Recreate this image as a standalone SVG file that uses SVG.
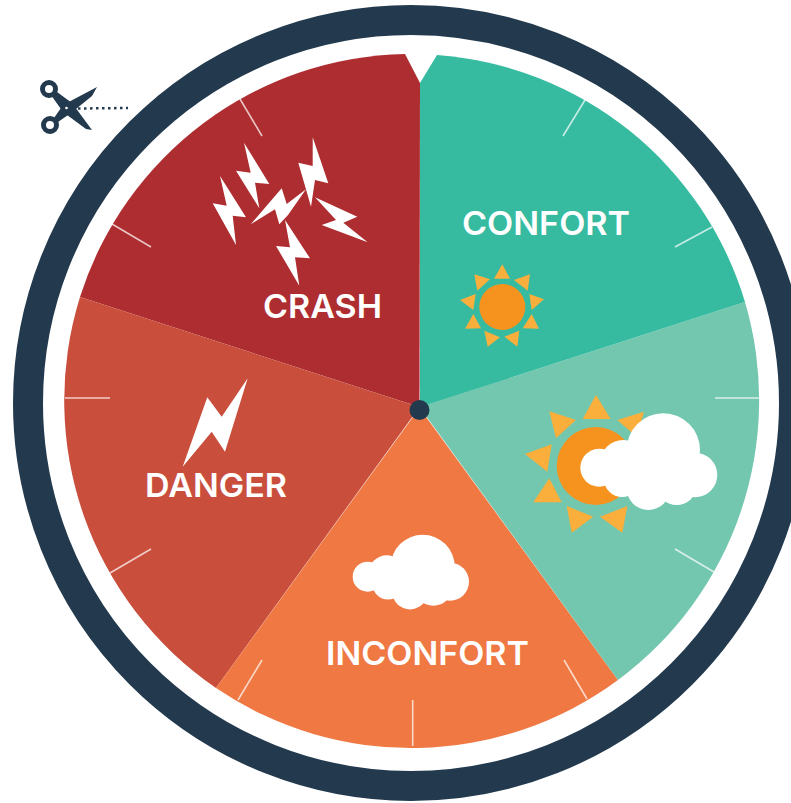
<svg xmlns="http://www.w3.org/2000/svg" width="791" height="803" viewBox="0 0 791 803">
<style>
.tick{stroke:#fff;stroke-opacity:.72;stroke-width:1.6;fill:none}
.lbl{font-family:"Inter","Noto Sans","Liberation Sans",sans-serif;font-weight:600;font-size:33px;fill:#fff}
.ray{fill:#faae3b}
.core{fill:#f6931f}
.w{fill:#fff}
.dk{fill:#233a4e}
</style>
<rect width="791" height="803" fill="#fff"/>
<circle id="ring" cx="411" cy="403" r="383" fill="none" stroke="#233a4e" stroke-width="30"/>
<g id="crash">
<path d="M419.5 407L420 83L405 54A348 348 0 0 0 80 297Z" fill="#ae2d30"/>
<g class="w">
<polygon points="220,176 246,217.3 232.7,215.7 236,245 212.7,203.3 226.7,205.7"/>
<polygon points="244,142.7 269.3,184 255,182.7 259.3,208.3 236,170.7 250.7,172.7"/>
<polygon points="306,189.3 288,215 279.3,224.3 275,209.3 250.7,224.3 281.7,188.3 286.7,204"/>
<polygon points="312.7,137.3 328.3,183.3 315,180 311,206.7 298.3,162.7 312.7,166"/>
<polygon points="315,197.3 357.3,216.7 343.3,222.7 367.7,242.3 321.7,225 336,220"/>
<polygon points="285,220 310,258.3 295,257.3 299.3,285.7 276,246 290,247.3"/>
</g>
<text class="lbl" x="263" y="318" textLength="119" lengthAdjust="spacingAndGlyphs">CRASH</text>
<line class="tick" x1="240" y1="99" x2="262" y2="136"/>
<line class="tick" x1="112" y1="224" x2="151" y2="247"/>
</g>
<g id="danger">
<path d="M419.5 407L80 297A348 348 0 0 0 216 688Z" fill="#c94e3c"/>
<polygon class="w" points="247.7,378.3 225,451.7 211.7,431.7 182.7,466.7 207.3,397.3 221.7,416.7"/>
<text class="lbl" x="145" y="497" textLength="142" lengthAdjust="spacingAndGlyphs">DANGER</text>
<line class="tick" x1="65" y1="398" x2="110" y2="398"/>
<line class="tick" x1="151" y1="549" x2="110" y2="573"/>
</g>
<g id="inconfort">
<path d="M419.5 408L216 688A348 348 0 0 0 618 680Z" fill="#ef7843"/>
<g class="w">
<circle cx="422.7" cy="566.7" r="32"/>
<circle cx="367.7" cy="576.7" r="15"/>
<circle cx="386.7" cy="573.3" r="18"/>
<circle cx="388" cy="584" r="15.500"/>
<circle cx="450" cy="581.7" r="19"/>
<circle cx="410" cy="591.7" r="17.700"/>
<circle cx="433.300" cy="586.7" r="19"/>
<circle cx="405" cy="580" r="20"/>
</g>
<text class="lbl" x="326" y="665" textLength="203" lengthAdjust="spacingAndGlyphs">INCONFORT</text>
<line class="tick" x1="262" y1="660" x2="238" y2="700"/>
<line class="tick" x1="412.7" y1="700" x2="412.7" y2="746"/>
<line class="tick" x1="564" y1="660" x2="587" y2="699"/>
</g>
<g id="partly-cloudy">
<path d="M419.5 407L745 302A348 348 0 0 1 618 680Z" fill="#73c7ae"/>
<g class="ray">
<polygon points="596,395 610.7,419 582.7,419"/>
<polygon points="644,411.7 617.3,420 636.7,436.7"/>
<polygon points="549.3,411.3 576,420 556,438.3"/>
<polygon points="525,454 551.7,444.3 547.3,471.7"/>
<polygon points="549.3,478.3 561.7,502.3 533.3,502.3"/>
<polygon points="566.7,506 593.3,516.7 571.7,532.7"/>
<polygon points="627.3,506 600,516.7 622.3,532.7"/>
</g>
<circle class="core" cx="595.7" cy="466" r="39"/>
<g class="w">
<circle cx="663.3" cy="450" r="36.700"/>
<circle cx="599.3" cy="467.7" r="19"/>
<circle cx="623.3" cy="463.3" r="23.300"/>
<circle cx="622" cy="479" r="18"/>
<circle cx="642" cy="470" r="25"/>
<circle cx="672" cy="470" r="25"/>
<circle cx="695" cy="475" r="22.300"/>
<circle cx="648.3" cy="488.3" r="21.700"/>
<circle cx="676.7" cy="485" r="20"/>
</g>
<line class="tick" x1="715" y1="398" x2="759" y2="398"/>
<line class="tick" x1="675" y1="549" x2="714" y2="572"/>
</g>
<g id="confort">
<path d="M420 407V83L437 55A348 348 0 0 1 745 302Z" fill="#36bba1"/>
<g class="ray">
<polygon points="502.3,264.3 510,278.7 494,278.7"/>
<polygon points="530,274.3 514,280 527.7,290.7"/>
<polygon points="544,299.3 531.7,310 529.3,294"/>
<polygon points="539,328.7 522.7,328.3 531.7,314"/>
<polygon points="519.3,330.7 504.3,336.7 517.3,346.7"/>
<polygon points="484.3,330.7 500,337.3 487.7,346.7"/>
<polygon points="465,328.7 481,328.3 473.3,314"/>
<polygon points="460,300 475.7,294 473.3,310"/>
<polygon points="474.3,274.3 490,279.3 477.3,290.7"/>
</g>
<circle class="core" cx="502.3" cy="307" r="23"/>
<text class="lbl" x="462" y="235" textLength="168" lengthAdjust="spacingAndGlyphs">CONFORT</text>
<line class="tick" x1="585" y1="100" x2="563" y2="136"/>
<line class="tick" x1="712" y1="227" x2="675" y2="247"/>
</g>
<circle id="hub" class="dk" cx="419.5" cy="410" r="10"/>
<g id="scissors">
<circle cx="49" cy="89" r="6.500" fill="none" stroke="#233a4e" stroke-width="5"/>
<circle cx="50" cy="125" r="6.500" fill="none" stroke="#233a4e" stroke-width="5"/>
<polygon class="dk" points="51,95 57,92 72,103 92,130 86,129 63,112"/>
<polygon class="dk" points="54,118 63,105 97,87 92,96 71,113 58,122"/>
<circle cx="66.500" cy="108" r="1.300" fill="#fff"/>
<line x1="78" y1="108.500" x2="128" y2="108" stroke="#233a4e" stroke-width="2.500" stroke-dasharray="2.500 3.500"/>
</g>
</svg>
